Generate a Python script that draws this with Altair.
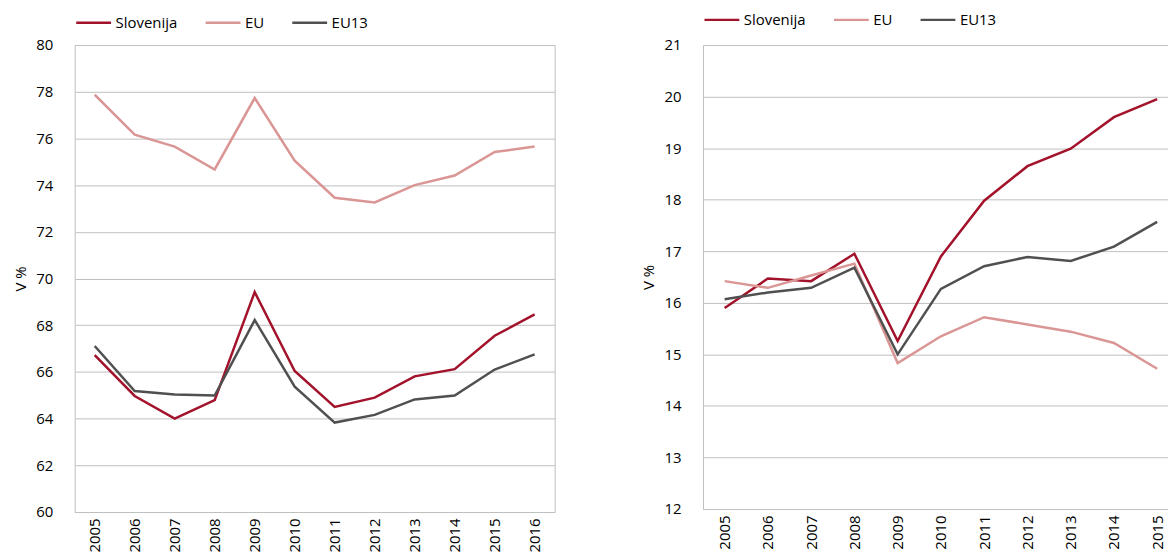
import altair as alt
import pandas as pd

series = ["Slovenija", "EU", "EU13"]
colors = ["#A3122B", "#DA9694", "#505050"]

years_left = list(range(2005, 2017))
slo_left = [66.72, 64.97, 64.0, 64.79, 69.42, 66.04, 64.5, 64.9, 65.81, 66.12, 67.55, 68.46]
eu_left = [77.87, 76.16, 75.65, 74.67, 77.73, 75.05, 73.46, 73.26, 74.0, 74.41, 75.42, 75.65]
eu13_left = [67.11, 65.18, 65.03, 64.99, 68.22, 65.37, 63.83, 64.16, 64.82, 64.99, 66.1, 66.75]

years_right = list(range(2005, 2016))
slo_right = [15.9, 16.47, 16.42, 16.95, 15.26, 16.9, 17.98, 18.65, 18.99, 19.6, 19.95]
eu_right = [16.42, 16.29, 16.53, 16.76, 14.83, 15.35, 15.72, 15.58, 15.44, 15.22, 14.72]
eu13_right = [16.07, 16.2, 16.29, 16.68, 15.0, 16.27, 16.71, 16.89, 16.81, 17.09, 17.57]

left_ticks = list(range(60, 81, 2))
right_ticks = list(range(12, 22))

FONT = "Open Sans"
FS = 15
GRID = "#bfbfbf"


def long(years, a, b, c):
    rows = []
    for name, vals in zip(series, [a, b, c]):
        for y, v in zip(years, vals):
            rows.append({"year": y, "series": name, "value": v})
    return pd.DataFrame(rows)


df_l = long(years_left, slo_left, eu_left, eu13_left)
df_r = long(years_right, slo_right, eu_right, eu13_right)


def legend(offset):
    return alt.Legend(
        title=None, orient="top", direction="horizontal",
        symbolType="M-1,0H4", symbolSize=196, symbolStrokeWidth=2.5,
        labelFont=FONT, labelFontSize=FS, labelColor="#000000",
        labelOffset=24, columnPadding=22, offset=offset, padding=0,
    )


def yaxis(ticks, title_pad, domain):
    return alt.Axis(title="V %", values=ticks, ticks=False, domain=domain,
                    domainColor=GRID, grid=True, gridColor=GRID, labelPadding=22,
                    titlePadding=title_pad, labelFont=FONT, labelFontSize=FS,
                    labelColor="#000000", titleFont=FONT, titleFontSize=15,
                    titleFontWeight="normal", titleColor="#000000")


left = alt.Chart(df_l).mark_line(strokeWidth=2.5).encode(
    x=alt.X("year:O", axis=alt.Axis(
        title=None, labelAngle=-90, labelPadding=6, ticks=False, domain=False,
        grid=False, labelFont=FONT, labelFontSize=FS, labelColor="#000000")),
    y=alt.Y("value:Q", scale=alt.Scale(domain=[60, 80], nice=False, zero=False),
            axis=yaxis(left_ticks, 7, False)),
    color=alt.Color("series:N", sort=series,
                    scale=alt.Scale(domain=series, range=colors), legend=legend(14)),
).properties(width=482, height=469,
             view=alt.ViewBackground(stroke=GRID, strokeWidth=1))

right = alt.Chart(df_r).mark_line(strokeWidth=2.5).encode(
    x=alt.X("year:Q", scale=alt.Scale(domain=[2004.5, 2015.25], nice=False, zero=False),
            axis=alt.Axis(title=None, values=years_right, format="d", labelAngle=-90,
                          labelPadding=6, ticks=False, domain=True, domainColor=GRID,
                          grid=False, labelFont=FONT, labelFontSize=FS,
                          labelColor="#000000", labelFlush=False)),
    y=alt.Y("value:Q", scale=alt.Scale(domain=[12, 21], nice=False, zero=False),
            axis=yaxis(right_ticks, 8, True)),
    color=alt.Color("series:N", sort=series,
                    scale=alt.Scale(domain=series, range=colors), legend=legend(17)),
).properties(width=467, height=466,
             view=alt.ViewBackground(strokeOpacity=0))

chart = alt.hconcat(left, right, spacing=85).resolve_scale(
    color="independent", y="independent", x="independent"
).resolve_legend(color="independent").properties(
    padding={"top": 2, "left": 5, "right": 0, "bottom": 0}
).configure_view(stroke=None)

chart.save("out.html", embed_options={"renderer": "svg", "actions": False})
